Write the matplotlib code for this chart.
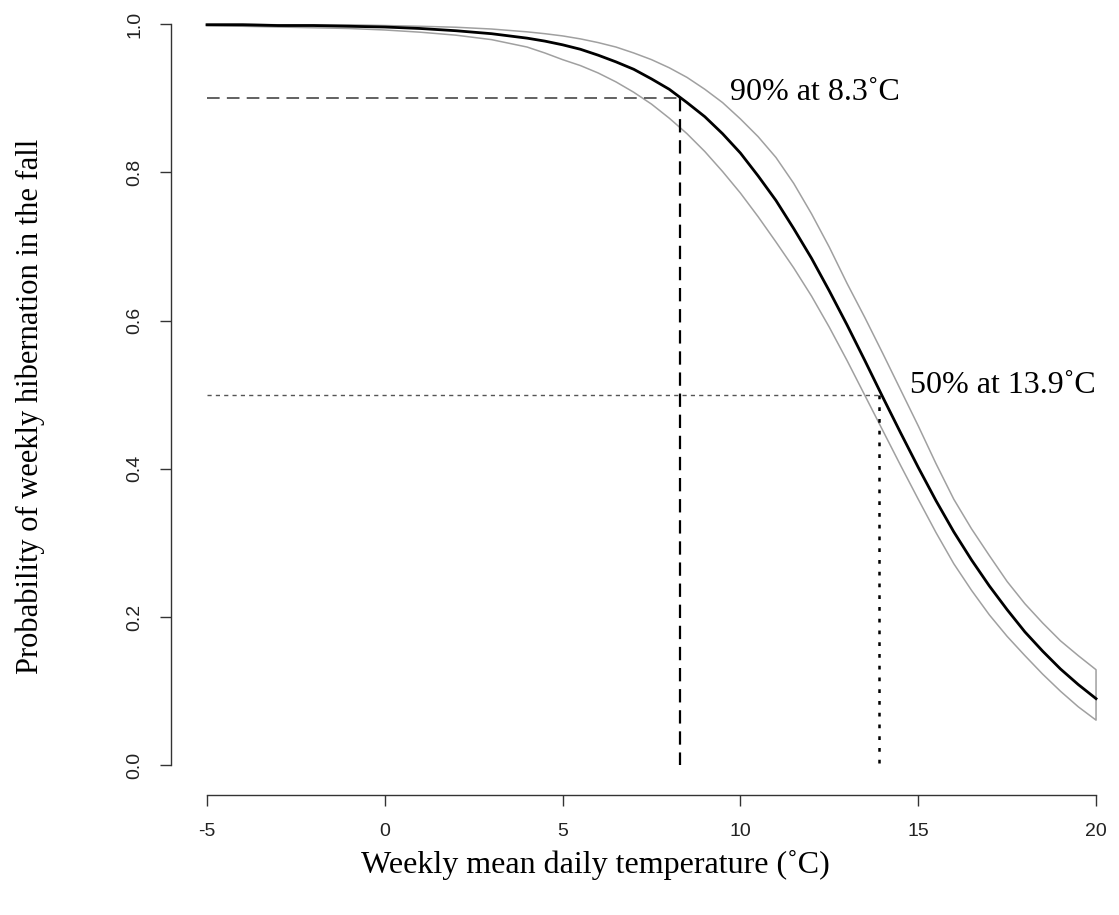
import matplotlib
matplotlib.use("Agg")
import matplotlib.pyplot as plt

plt.rcParams["axes.unicode_minus"] = False

# values
temp = [-5, -4, -3, -2, -1, 0, 1, 2, 3, 4,
        4.5, 5, 5.5, 6, 6.5, 7, 7.5, 8, 8.5, 9, 9.5, 10, 10.5, 11, 11.5,
        12, 12.5, 13, 13.5, 14, 14.5, 15, 15.5, 16, 16.5, 17, 17.5, 18,
        18.5, 19, 19.5, 20]
prob_mean = [0.999, 0.999, 0.998, 0.998, 0.997, 0.996, 0.994, 0.991, 0.987, 0.981,
             0.977, 0.972, 0.966, 0.958, 0.949, 0.939, 0.926, 0.912, 0.894, 0.875,
             0.852, 0.826, 0.795, 0.762, 0.724, 0.684, 0.640, 0.594, 0.546, 0.497,
             0.449, 0.402, 0.357, 0.315, 0.277, 0.242, 0.210, 0.180, 0.154, 0.130,
             0.109, 0.090]
prob_upper = [1.000, 1.000, 0.999, 0.999, 0.999, 0.998, 0.997, 0.9957, 0.9933, 0.9895,
              0.987, 0.984, 0.980, 0.975, 0.969, 0.961, 0.952, 0.941, 0.928, 0.912,
              0.894, 0.872, 0.848, 0.820, 0.785, 0.744, 0.699, 0.650, 0.604, 0.556,
              0.507, 0.458, 0.407, 0.359, 0.319, 0.283, 0.248, 0.218, 0.192, 0.168,
              0.148, 0.129]
prob_lower = [0.998, 0.997, 0.996, 0.995, 0.994, 0.992, 0.989, 0.985, 0.979, 0.969,
              0.961, 0.952, 0.944, 0.934, 0.922, 0.908, 0.892, 0.873, 0.852, 0.828,
              0.801, 0.772, 0.740, 0.706, 0.671, 0.633, 0.591, 0.546, 0.499, 0.452,
              0.405, 0.359, 0.314, 0.272, 0.236, 0.203, 0.174, 0.148, 0.123, 0.100,
              0.079, 0.061]

t90, p90 = 8.3, 0.9
t50, p50 = 13.9, 0.5
labels = ["90% at 8.3˚C", "50% at 13.9˚C"]

serif = ["Liberation Serif", "DejaVu Serif"]

fig = plt.figure(figsize=(11.19, 9.15), dpi=100)
ax = fig.add_axes([171.4 / 1119, 120.0 / 915, 960.2 / 1119, 800.6 / 915])

# confidence band drawn as a closed outline
band_x = temp + temp[::-1]
band_y = prob_upper + prob_lower[::-1]
ax.plot(band_x, band_y, color="#a0a0a0", lw=1.1)
ax.plot(temp, prob_mean, color="black", lw=2.0)

# reference lines
ax.plot([temp[0], t90], [p90, p90], color="#555555", lw=1.3, dashes=(7, 4))
ax.plot([t90, t90], [p90, 0], color="black", lw=1.6, dashes=(6, 3.5))
ax.plot([temp[0], t50], [p50, p50], color="#555555", lw=1.0, dashes=(3, 3))
ax.plot([t50, t50], [p50, 0], color="black", lw=1.8, dashes=(1.5, 3.2))

ax.text(9.71, 0.908, labels[0], fontsize=23, family=serif, ha="left", va="center")
ax.text(14.77, 0.513, labels[1], fontsize=23, family=serif, ha="left", va="center")

ax.set_xlim(-6, 21)
ax.set_ylim(-0.04, 1.04)
ax.set_xticks([-5, 0, 5, 10, 15, 20])
ax.set_yticks([0.0, 0.2, 0.4, 0.6, 0.8, 1.0])
ax.set_yticklabels(["0.0", "0.2", "0.4", "0.6", "0.8", "1.0"], rotation=90, va="center")

for side in ["top", "right"]:
    ax.spines[side].set_visible(False)
ax.spines["left"].set_bounds(0, 1)
ax.spines["bottom"].set_bounds(-5, 20)
for side in ["left", "bottom"]:
    ax.spines[side].set_color("#333333")
    ax.spines[side].set_linewidth(1.0)
ax.tick_params(direction="out", length=8, width=1.0, color="#333333",
               labelsize=14, labelcolor="#222222", pad=12)
for lab in ax.get_xticklabels() + ax.get_yticklabels():
    lab.set_family("Liberation Sans")

ax.set_xlabel("Weekly mean daily temperature (˚C)", fontsize=23, family=serif)
ax.set_ylabel("Probability of weekly hibernation in the fall", fontsize=22, family=serif)
ax.xaxis.label.set_va("center")
ax.yaxis.label.set_va("center")
ax.xaxis.set_label_coords(0.442, -0.0875)
ax.yaxis.set_label_coords(-0.147, 0.485)

fig.savefig("out.png", dpi=100)
